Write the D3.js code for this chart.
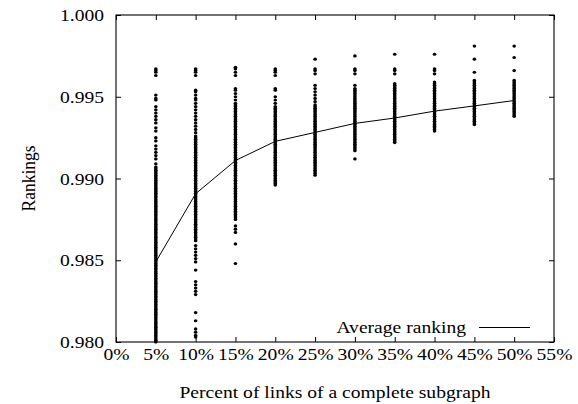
<!DOCTYPE html>
<html>
<head>
<meta charset="utf-8">
<script src="https://cdn.jsdelivr.net/npm/d3@7"></script>
<style>
  html, body { margin: 0; padding: 0; background: #fff; }
  svg { display: block; }
  text { font-family: "Liberation Serif", "Times New Roman", Times, serif; fill: #000; }
</style>
</head>
<body>
<svg id="chart" width="578" height="404"></svg>
<script>
// Link percentages (x categories) and tick labels
const percents = [5, 10, 15, 20, 25, 30, 35, 40, 45, 50];
const xTickValues = [0, 5, 10, 15, 20, 25, 30, 35, 40, 45, 50, 55];
const yTickValues = [0.980, 0.985, 0.990, 0.995, 1.000];

// Mean ranking per percentage
const averageRanking = [0.98490, 0.98907, 0.99110, 0.99227, 0.99282, 0.99337, 0.99370, 0.99412, 0.99444, 0.99477];

// Individual rankings observed at each percentage
const rank05 = [
  0.9967,0.9966,0.9965,0.9963,
  0.9951,0.9949,0.9948,0.9944,0.9942,0.9940,0.9938,0.9936,0.9934,0.9931,
  0.9929,0.9925,0.9923,0.9920,0.9918,0.9916,0.9914,0.9912,0.9909,0.9907,
  0.9906,0.9905,0.9904,0.9903,0.9902,0.9901,0.9900,
  0.9899,0.9898,0.9897,0.9896,0.9895,0.9894,0.9893,0.9892,0.9891,0.9890,
  0.9889,0.9888,0.9887,0.9886,0.9885,0.9884,0.9883,0.9882,0.9881,0.9880,
  0.9879,0.9878,0.9877,0.9876,0.9875,0.9874,0.9873,0.9872,0.9871,0.9870,
  0.9869,0.9868,0.9867,0.9866,0.9865,0.9864,0.9863,0.9862,0.9861,0.9860,
  0.9859,0.9858,0.9857,0.9856,0.9855,0.9854,0.9853,0.9852,0.9851,0.9850,
  0.9849,0.9848,0.9847,0.9846,0.9845,0.9844,0.9843,0.9842,0.9841,0.9840,
  0.9839,0.9838,0.9837,0.9836,0.9835,0.9834,0.9833,0.9832,0.9831,0.9830,
  0.9829,0.9828,0.9827,0.9826,0.9825,0.9824,0.9823,0.9822,0.9821,0.9820,
  0.9819,0.9818,0.9817,0.9816,0.9815,0.9814,0.9813,0.9812,0.9811,0.9810,
  0.9809,0.9808,0.9807,0.9806,0.9805,0.9804,0.9803,0.9802,0.9801,0.9800
];
const rank10 = [
  0.9967,0.9966,0.9965,0.9963,
  0.9954,0.9953,0.9951,0.9949,0.9948,0.9946,0.9944,0.9942,0.9940,0.9938,
  0.9936,0.9934,0.9932,0.9930,0.9928,0.9926,
  0.9925,0.9924,0.9923,0.9922,0.9921,0.9920,
  0.9919,0.9918,0.9917,0.9916,0.9915,0.9914,0.9913,0.9912,0.9911,0.9910,
  0.9909,0.9908,0.9907,0.9906,0.9905,0.9904,0.9903,0.9902,0.9901,0.9900,
  0.9899,0.9898,0.9897,0.9896,0.9895,0.9894,0.9893,0.9892,0.9891,0.9890,
  0.9889,0.9888,0.9887,0.9886,0.9885,0.9884,0.9883,0.9882,0.9881,0.9880,
  0.9879,0.9878,0.9877,0.9876,0.9875,0.9874,0.9873,0.9872,0.9871,0.9870,
  0.9869,0.9868,0.9867,0.9866,0.9865,0.9864,0.9863,0.9862,
  0.9859,0.9857,0.9855,0.9853,0.9851,0.9849,0.9844,0.9837,0.9835,0.9833,
  0.9831,0.9829,0.9818,0.9813,0.9808,0.9806,0.9804,0.9803
];
const rank15 = [
  0.9968,0.9967,0.9965,0.9963,
  0.9955,0.9954,0.9952,0.9950,0.9948,0.9946,0.9945,
  0.9944,0.9943,0.9942,0.9941,0.9940,
  0.9939,0.9938,0.9937,0.9936,0.9935,0.9934,0.9933,0.9932,0.9931,0.9930,
  0.9929,0.9928,0.9927,0.9926,0.9925,0.9924,0.9923,0.9922,0.9921,0.9920,
  0.9919,0.9918,0.9917,0.9916,0.9915,0.9914,0.9913,0.9912,0.9911,0.9910,
  0.9909,0.9908,0.9907,0.9906,0.9905,0.9904,0.9903,0.9902,0.9901,0.9900,
  0.9899,0.9898,0.9897,0.9896,0.9895,0.9894,0.9893,0.9892,0.9891,0.9890,
  0.9889,0.9888,0.9887,0.9886,0.9885,0.9884,0.9883,0.9882,0.9881,0.9880,
  0.9879,0.9878,0.9877,0.9876,0.9875,
  0.9871,0.9869,0.9867,0.9860,0.9848
];
const rank20 = [
  0.9967,0.9966,0.9965,0.9963,0.9955,0.9954,0.9950,0.9948,0.9946,
  0.9944,0.9943,0.9942,0.9941,0.9940,
  0.9939,0.9938,0.9937,0.9936,0.9935,0.9934,0.9933,0.9932,0.9931,0.9930,
  0.9929,0.9928,0.9927,0.9926,0.9925,0.9924,0.9923,0.9922,0.9921,0.9920,
  0.9919,0.9918,0.9917,0.9916,0.9915,0.9914,0.9913,0.9912,0.9911,0.9910,
  0.9909,0.9908,0.9907,0.9906,0.9905,0.9904,0.9903,0.9902,0.9901,0.9900,
  0.9899,0.9898,0.9897,0.9896
];
const rank25 = [
  0.9973,0.9967,0.9966,0.9964,
  0.9957,0.9955,0.9953,0.9951,0.9949,0.9947,0.9945,
  0.9944,0.9943,0.9942,0.9941,0.9940,
  0.9939,0.9938,0.9937,0.9936,0.9935,0.9934,0.9933,0.9932,0.9931,0.9930,
  0.9929,0.9928,0.9927,0.9926,0.9925,0.9924,0.9923,0.9922,0.9921,0.9920,
  0.9919,0.9918,0.9917,0.9916,0.9915,0.9914,0.9913,0.9912,0.9911,0.9910,
  0.9909,0.9908,0.9907,0.9906,0.9905,0.9904,0.9903,0.9902
];
const rank30 = [
  0.9975,0.9967,0.9966,0.9964,0.9957,
  0.9955,0.9954,0.9953,0.9952,0.9951,0.9950,
  0.9949,0.9948,0.9947,0.9946,0.9945,0.9944,0.9943,0.9942,0.9941,0.9940,
  0.9939,0.9938,0.9937,0.9936,0.9935,0.9934,0.9933,0.9932,0.9931,0.9930,
  0.9929,0.9928,0.9927,0.9926,0.9925,0.9924,0.9923,0.9922,0.9921,0.9920,
  0.9919,0.9918,0.9917,
  0.9912
];
const rank35 = [
  0.9976,0.9967,0.9966,0.9964,
  0.9958,0.9957,0.9956,0.9955,0.9954,0.9953,0.9952,0.9951,0.9950,
  0.9949,0.9948,0.9947,0.9946,0.9945,0.9944,0.9943,0.9942,0.9941,0.9940,
  0.9939,0.9938,0.9937,0.9936,0.9935,0.9934,0.9933,0.9932,0.9931,0.9930,
  0.9929,0.9928,0.9927,0.9926,0.9925,0.9924,0.9923,0.9922
];
const rank40 = [
  0.9976,0.9967,0.9966,0.9964,
  0.9959,0.9958,0.9957,0.9956,0.9955,0.9954,0.9953,0.9952,0.9951,0.9950,
  0.9949,0.9948,0.9947,0.9946,0.9945,0.9944,0.9943,0.9942,0.9941,0.9940,
  0.9939,0.9938,0.9937,0.9936,0.9935,0.9934,0.9933,0.9932,0.9931,0.9930,
  0.9929
];
const rank45 = [
  0.9981,0.9973,0.9965,
  0.9960,0.9959,0.9958,0.9957,0.9956,0.9955,0.9954,0.9953,0.9952,0.9951,0.9950,
  0.9949,0.9948,0.9947,0.9946,0.9945,0.9944,0.9943,0.9942,0.9941,0.9940,
  0.9939,0.9938,0.9937,0.9936,0.9935,0.9934,0.9933
];
const rank50 = [
  0.9981,0.9974,0.9966,
  0.9960,0.9959,0.9958,0.9957,0.9956,0.9955,0.9954,0.9953,0.9952,0.9951,0.9950,
  0.9949,0.9948,0.9947,0.9946,0.9945,0.9944,0.9943,0.9942,0.9941,0.9940,
  0.9939,0.9938
];
const rankingsByPercent = [rank05, rank10, rank15, rank20, rank25, rank30, rank35, rank40, rank45, rank50];

// Layout
const W = 578, H = 404;
const margin = { top: 15, right: 24, bottom: 62, left: 116 };
const fontSize = 17.5;
const stretch = 1.12; // horizontal stretch of the lettering

const svg = d3.select("#chart");
const x = d3.scaleLinear().domain([0, 55]).range([margin.left, W - margin.right]);
const y = d3.scaleLinear().domain([0.980, 1.000]).range([H - margin.bottom, margin.top]);

// Scatter points
const points = [];
percents.forEach((p, i) => rankingsByPercent[i].forEach(v => points.push({ p, v })));
svg.append("g")
  .selectAll("ellipse")
  .data(points)
  .join("ellipse")
  .attr("cx", d => x(d.p))
  .attr("cy", d => y(d.v))
  .attr("rx", 1.8)
  .attr("ry", 1.6)
  .attr("fill", "#000");

// Average line
const line = d3.line().x((d, i) => x(percents[i])).y(d => y(d));
svg.append("path")
  .datum(averageRanking)
  .attr("d", line)
  .attr("fill", "none")
  .attr("stroke", "#000")
  .attr("stroke-width", 1);

// Axes with inward ticks on all four sides
const tickLen = 5;
const bottomAxis = svg.append("g")
  .attr("transform", `translate(0,${y.range()[0]})`)
  .call(d3.axisBottom(x).tickValues(xTickValues).tickFormat(d => d + "%")
    .tickSizeInner(-tickLen).tickSizeOuter(0));
bottomAxis.selectAll("text")
  .attr("y", 18).attr("dy", null)
  .attr("transform", `scale(${stretch},1)`);

const leftAxis = svg.append("g")
  .attr("transform", `translate(${x.range()[0]},0)`)
  .call(d3.axisLeft(y).tickValues(yTickValues).tickFormat(d3.format(".3f"))
    .tickSizeInner(-tickLen).tickSizeOuter(0));
leftAxis.selectAll("text")
  .attr("x", -12 / stretch)
  .attr("transform", `scale(${stretch},1)`);

svg.append("g")
  .attr("transform", `translate(0,${y.range()[1]})`)
  .call(d3.axisTop(x).tickValues(xTickValues).tickFormat("")
    .tickSizeInner(-tickLen).tickSizeOuter(0));
svg.append("g")
  .attr("transform", `translate(${x.range()[1]},0)`)
  .call(d3.axisRight(y).tickValues(yTickValues).tickFormat("")
    .tickSizeInner(-tickLen).tickSizeOuter(0));

svg.selectAll(".domain").remove();
svg.selectAll(".tick line").attr("stroke", "#000");
svg.selectAll(".tick text")
  .attr("font-size", fontSize)
  .attr("font-family", '"Liberation Serif", "Times New Roman", serif')
  .attr("fill", "#000");

// Plot frame
svg.append("rect")
  .attr("x", x.range()[0])
  .attr("y", y.range()[1])
  .attr("width", x.range()[1] - x.range()[0])
  .attr("height", y.range()[0] - y.range()[1])
  .attr("fill", "none")
  .attr("stroke", "#000")
  .attr("stroke-width", 1.1);

// Legend
const legend = svg.append("g");
legend.append("g")
  .attr("transform", `translate(466,333) scale(${stretch},1)`)
  .append("text")
  .attr("text-anchor", "end")
  .attr("font-size", fontSize)
  .text("Average ranking");
legend.append("line")
  .attr("x1", 479).attr("x2", 530)
  .attr("y1", 327.5).attr("y2", 327.5)
  .attr("stroke", "#000").attr("stroke-width", 1);

// Axis titles
svg.append("g")
  .attr("transform", `translate(${(x.range()[0] + x.range()[1]) / 2},398) scale(${stretch},1)`)
  .append("text")
  .attr("text-anchor", "middle")
  .attr("font-size", fontSize)
  .text("Percent of links of a complete subgraph");

svg.append("g")
  .attr("transform", `translate(35,${(y.range()[0] + y.range()[1]) / 2}) scale(${stretch},1) rotate(-90)`)
  .append("text")
  .attr("text-anchor", "middle")
  .attr("font-size", fontSize)
  .text("Rankings");
</script>
</body>
</html>
